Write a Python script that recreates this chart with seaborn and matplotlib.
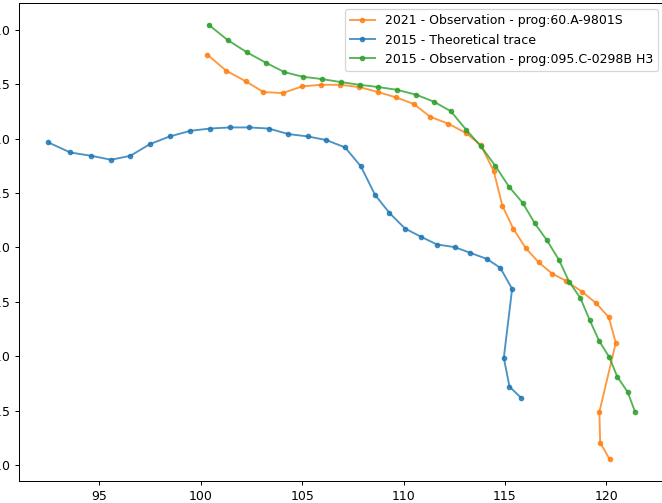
import pandas as pd
import matplotlib
matplotlib.use("Agg")
import matplotlib.pyplot as plt
import seaborn as sns

# 2015 theoretical trace
theo_x = [92.49, 93.57, 94.61, 95.58, 96.53, 97.50, 98.47, 99.49, 100.47, 101.44,
          102.40, 103.35, 104.32, 105.29, 106.19, 107.12, 107.90, 108.59, 109.30, 110.07,
          110.86, 111.65, 112.52, 113.29, 114.10, 114.77, 115.35, 114.94, 115.22, 115.81]
theo_y = [2.964, 2.872, 2.841, 2.805, 2.841, 2.949, 3.019, 3.071, 3.092, 3.102,
          3.102, 3.092, 3.041, 3.019, 2.986, 2.918, 2.743, 2.483, 2.317, 2.173,
          2.097, 2.026, 2.002, 1.949, 1.894, 1.811, 1.618, 0.984, 0.720, 0.613]

# 2021 observation
obs21_x = [100.33, 101.26, 102.23, 103.09, 104.04, 105.00, 105.93, 106.88, 107.82, 108.74,
           109.63, 110.51, 111.31, 112.21, 113.08, 113.80, 114.44, 114.87, 115.40, 116.02,
           116.66, 117.32, 118.01, 118.80, 119.49, 120.11, 120.46, 119.65, 119.69, 120.16]
obs21_y = [3.770, 3.623, 3.525, 3.427, 3.418, 3.479, 3.494, 3.494, 3.473, 3.427,
           3.378, 3.317, 3.200, 3.136, 3.050, 2.940, 2.703, 2.382, 2.173, 1.993,
           1.862, 1.758, 1.692, 1.591, 1.487, 1.358, 1.122, 0.487, 0.205, 0.052]

# 2015 observation
obs15_x = [100.39, 101.33, 102.29, 103.21, 104.12, 105.02, 105.96, 106.90, 107.83, 108.76,
           109.67, 110.63, 111.50, 112.32, 113.10, 113.82, 114.51, 115.19, 115.88, 116.46,
           117.06, 117.66, 118.16, 118.71, 119.17, 119.63, 120.14, 120.53, 121.05, 121.41]
obs15_y = [4.046, 3.905, 3.791, 3.697, 3.611, 3.568, 3.547, 3.519, 3.494, 3.473,
           3.448, 3.402, 3.338, 3.252, 3.078, 2.927, 2.752, 2.559, 2.406, 2.223,
           2.066, 1.885, 1.683, 1.536, 1.333, 1.143, 0.990, 0.812, 0.669, 0.487]

series = [
    ("2015 - Theoretical trace", theo_x, theo_y, "tab:blue"),
    ("2021 - Observation - prog:60.A-9801S", obs21_x, obs21_y, "tab:orange"),
    ("2015 - Observation - prog:095.C-0298B H3", obs15_x, obs15_y, "tab:green"),
]
legend_order = [
    "2021 - Observation - prog:60.A-9801S",
    "2015 - Theoretical trace",
    "2015 - Observation - prog:095.C-0298B H3",
]

fig = plt.figure(figsize=(662 / 90, 503 / 90), dpi=90)
ax = fig.add_axes([19 / 662, 22 / 503, 645.4 / 662, 478 / 503])

for label, xs, ys, color in series:
    df = pd.DataFrame({"x": xs, "y": ys})
    sns.lineplot(data=df, x="x", y="y", sort=False, marker=".", markersize=7,
                 markeredgewidth=1, markeredgecolor=color, color=color,
                 alpha=0.8, label=label, ax=ax)

ax.set_xlabel("")
ax.set_ylabel("")

handles, labels = ax.get_legend_handles_labels()
lookup = dict(zip(labels, handles))
ax.legend([lookup[l] for l in legend_order], legend_order, loc="upper right")

fig.savefig("out.png", dpi=90)
